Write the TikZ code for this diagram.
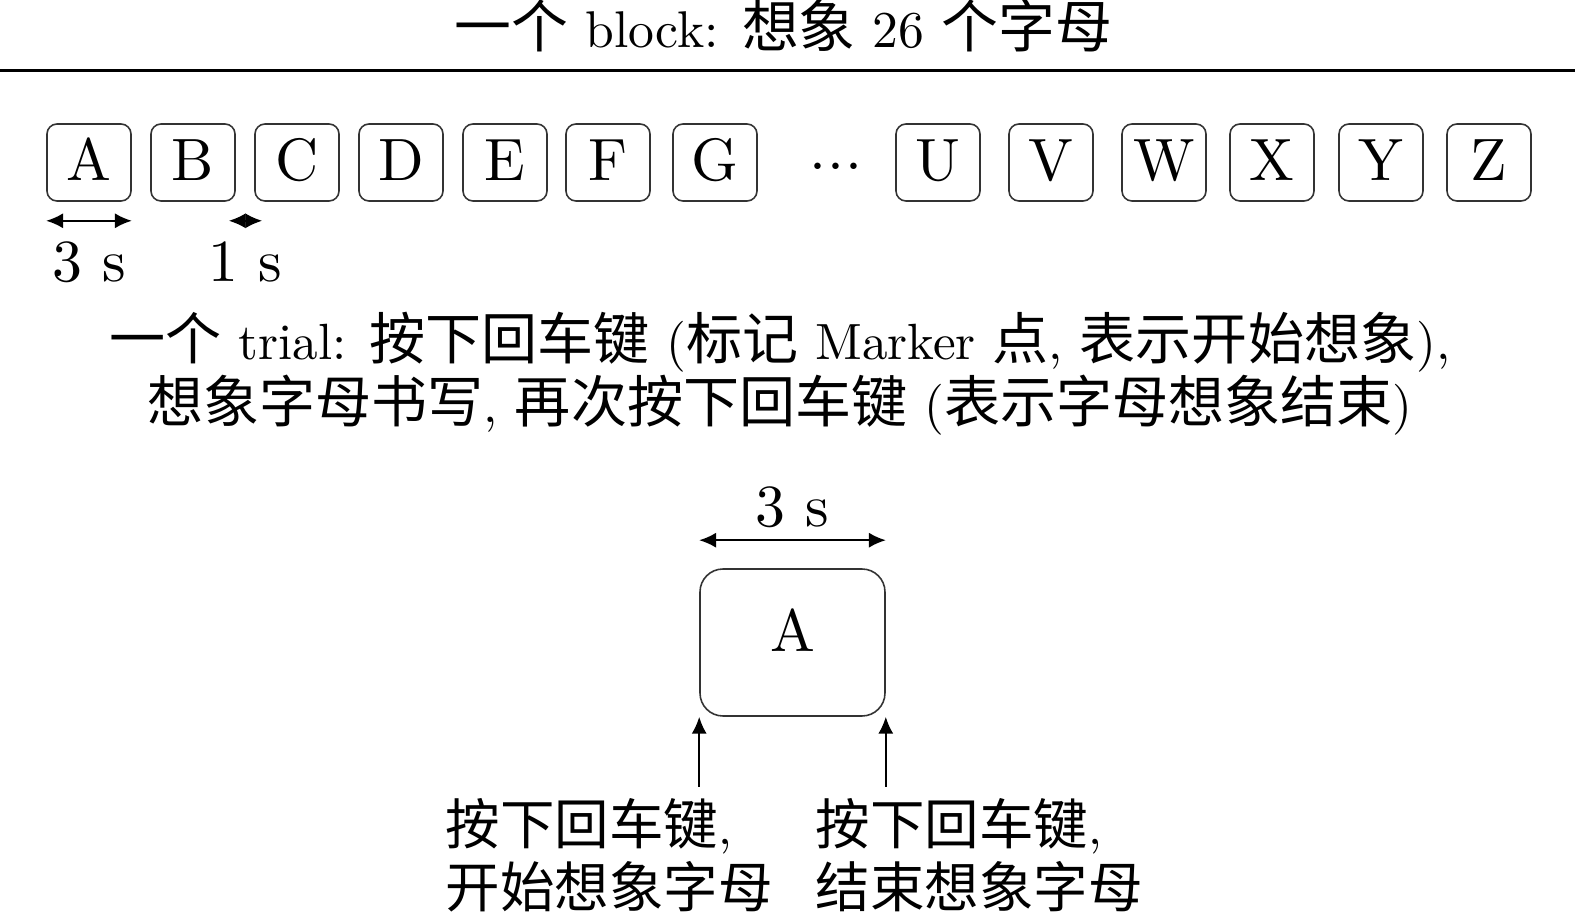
\documentclass[tikz,border=0pt]{standalone}
\usepackage{fontspec}
\usepackage{tikz}
\usetikzlibrary{arrows.meta}
\setmainfont{lmroman10-regular.otf}[BoldFont=lmroman10-bold.otf,ItalicFont=lmroman10-italic.otf]
\newfontfamily\cjk[Scale=1.1]{Noto Sans CJK SC}
\newcommand{\zh}[1]{{\cjk #1}}
\def\bigsize{\fontsize{17}{20}\selectfont}

\begin{document}
\begin{tikzpicture}[font=\fontsize{14.5}{17.9}\selectfont,
    >={Latex[length=4.8pt,width=4.3pt]},
    letter/.style={draw=black!80, line width=0.45pt, rounded corners=0.1cm, inner sep=0pt,
        minimum width=0.84cm, text height=0.57cm, text depth=0.2cm, font=\bigsize},
    bigletter/.style={letter, rounded corners=0.23cm, minimum width=1.85cm,
        text height=0.82cm, text depth=0.65cm},
    secs/.style={font=\bigsize},
    dim/.style={<->, line width=0.55pt},
    press/.style={->, line width=0.55pt},
    keynote/.style={anchor=north west, align=left, inner sep=0pt, font=\fontsize{14.1}{17.9}\selectfont}]
   \useasboundingbox (0,0) rectangle (15.75,9.23);
      \node (title) at (7.835,8.75) [anchor=base, font=\fontsize{14.7}{17}\selectfont] {\zh{一个} block: \zh{想象} 26 \zh{个字母}};
      \draw[line width=0.8pt] (0,8.523) -- (15.75,8.523);
   % one block
      \node (A) at (0.89,7.605) [letter] {A};
      \node (B) at (1.93,7.605) [letter] {B};
      \node (C) at (2.97,7.605) [letter] {C};
      \node (D) at (4.01,7.605) [letter] {D};
      \node (E) at (5.05,7.605) [letter] {E};
      \node (F) at (6.08,7.605) [letter] {F};
      \node (G) at (7.15,7.605) [letter] {G};
      \node (dots) at (8.36,7.41) [anchor=base, font=\bigsize] {$\cdotp\mkern-2.5mu\cdotp\mkern-2.5mu\cdotp$};
      \node (U) at (9.38,7.605) [letter] {U};
      \node (V) at (10.51,7.605) [letter] {V};
      \node (W) at (11.64,7.605) [letter] {W};
      \node (X) at (12.72,7.605) [letter] {X};
      \node (Y) at (13.81,7.605) [letter] {Y};
      \node (Z) at (14.89,7.605) [letter] {Z};
      \draw[dim] ([yshift=-0.19cm]A.south west) -- ([yshift=-0.19cm]A.south east) node[midway, below=0.08cm, secs] {3 s};
      \draw[dim] ([xshift=-0.07cm,yshift=-0.19cm]B.south east) -- ([xshift=0.08cm,yshift=-0.19cm]C.south west) node[midway, below=0.08cm, secs] {1 s};
      \node (trial) at (7.8,5.49) [align=center] {\zh{一个} trial: \zh{按下回车键} (\zh{标记} Marker \zh{点}, \zh{表示开始想象}),\\
         \zh{想象字母书写}, \zh{再次按下回车键} (\zh{表示字母想象结束})};
   % one trial
      \node (trialA) at (7.925,2.805) [bigletter] {A};
      \draw[dim] ([yshift=0.28cm]trialA.north west) -- ([yshift=0.28cm]trialA.north east) node[midway, above, secs] {3 s};
      \coordinate (pressA) at ([yshift=-0.7cm]trialA.south west);
      \coordinate (pressB) at ([yshift=-0.7cm]trialA.south east);
      \draw[press] (pressA) -- (trialA.south west);
      \draw[press] (pressB) -- (trialA.south east);
      \node (startlbl) at (4.45,1.25) [keynote] {\zh{按下回车键},\\\zh{开始想象字母}};
      \node (endlbl) at (8.15,1.25) [keynote] {\zh{按下回车键},\\\zh{结束想象字母}};
\end{tikzpicture}
\end{document}
